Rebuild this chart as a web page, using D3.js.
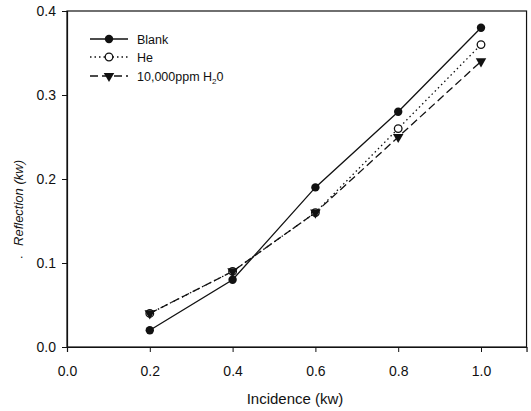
<!DOCTYPE html>
<html>
<head>
<meta charset="utf-8">
<script src="https://cdn.jsdelivr.net/npm/d3@7"></script>
<style>
  body { margin: 0; background: #fff; }
  svg text { font-family: "Liberation Sans", Arial, sans-serif; fill: #111; }
</style>
</head>
<body>
<svg id="chart" width="531" height="411"></svg>
<script>
const incidence = [0.2, 0.4, 0.6, 0.8, 1.0];
const blank = [0.02, 0.08, 0.19, 0.28, 0.38];
const helium = [0.04, 0.09, 0.16, 0.26, 0.36];
const water = [0.04, 0.09, 0.16, 0.25, 0.34];
const xTicks = [0.0, 0.2, 0.4, 0.6, 0.8, 1.0];
const yTicks = [0.0, 0.1, 0.2, 0.3, 0.4];

const svg = d3.select("#chart");

const x = d3.scaleLinear().domain([0, 1.11]).range([67, 67 + 414 * 1.11]);
const y = d3.scaleLinear().domain([0, 0.4]).range([347, 11]);

// frame
svg.append("rect")
  .attr("x", x(0)).attr("y", y(0.4))
  .attr("width", x(1.11) - x(0)).attr("height", y(0) - y(0.4))
  .attr("fill", "none").attr("stroke", "#111").attr("stroke-width", 1.2);

const xAxis = svg.append("g")
  .attr("transform", `translate(0,${y(0)})`)
  .call(d3.axisBottom(x).tickValues(xTicks).tickSize(5).tickPadding(14).tickFormat(d3.format(".1f")));
const yAxis = svg.append("g")
  .attr("transform", `translate(${x(0)},0)`)
  .call(d3.axisLeft(y).tickValues(yTicks).tickSize(5).tickPadding(6).tickFormat(d3.format(".1f")));

[xAxis, yAxis].forEach(a => {
  a.select(".domain").attr("stroke", "#111").attr("stroke-width", 1.2);
  a.selectAll(".tick line").attr("stroke", "#111");
  a.selectAll(".tick text").attr("font-size", 14).attr("fill", "#111")
    .style("font-family", "Liberation Sans, Arial, sans-serif");
});

// axis titles
svg.append("text")
  .attr("x", 295).attr("y", 404)
  .attr("text-anchor", "middle")
  .attr("font-size", 15)
  .text("Incidence (kw)");

svg.append("text")
  .attr("transform", "translate(23,203) rotate(-90)")
  .attr("text-anchor", "middle")
  .attr("font-size", 13)
  .attr("font-style", "italic")
  .text("Reflection (kw)");

svg.append("text")
  .attr("x", 20).attr("y", 258)
  .attr("font-size", 12)
  .text(".");

const series = [
  { name: "Blank", values: blank, dash: null, marker: "filled" },
  { name: "He", values: helium, dash: "1.5,3", marker: "open" },
  { name: "water", values: water, dash: "8,4", marker: "triangle" }
];

const line = d3.line()
  .x(d => x(d[0]))
  .y(d => y(d[1]));

function drawMarker(g, kind, cx, cy) {
  if (kind === "filled") {
    g.append("circle").attr("cx", cx).attr("cy", cy).attr("r", 4.2).attr("fill", "#111");
  } else if (kind === "open") {
    g.append("circle").attr("cx", cx).attr("cy", cy).attr("r", 3.8)
      .attr("fill", "#fff").attr("stroke", "#111").attr("stroke-width", 1.3);
  } else {
    g.append("path")
      .attr("transform", `translate(${cx},${cy})`)
      .attr("d", d3.symbol().type(d3.symbolTriangle).size(48)())
      .attr("transform", `translate(${cx},${cy}) rotate(180)`)
      .attr("fill", "#111");
  }
}

// draw lines then markers (H2O on top of He)
const order = [series[0], series[1], series[2]];
order.forEach(s => {
  const pts = incidence.map((v, i) => [v, s.values[i]]);
  svg.append("path")
    .attr("d", line(pts))
    .attr("fill", "none")
    .attr("stroke", "#111")
    .attr("stroke-width", 1.3)
    .attr("stroke-dasharray", s.dash);
});
[series[1], series[2], series[0]].forEach(s => {
  const g = svg.append("g");
  incidence.forEach((v, i) => drawMarker(g, s.marker, x(v), y(s.values[i])));
});

// legend
const legendY = [39, 57, 76];
series.forEach((s, i) => {
  const g = svg.append("g");
  g.append("line")
    .attr("x1", 90).attr("x2", 128)
    .attr("y1", legendY[i]).attr("y2", legendY[i])
    .attr("stroke", "#111").attr("stroke-width", 1.3)
    .attr("stroke-dasharray", s.dash);
  drawMarker(g, s.marker, 109, legendY[i]);
  const t = g.append("text")
    .attr("x", 137).attr("y", legendY[i] + 4.5)
    .attr("font-size", 12.5);
  if (s.name === "water") {
    t.append("tspan").text("10,000ppm H");
    t.append("tspan").attr("font-size", 8).attr("dy", 3).text("2");
    t.append("tspan").attr("dy", -3).text("0");
  } else {
    t.text(s.name);
  }
});
</script>
</body>
</html>
